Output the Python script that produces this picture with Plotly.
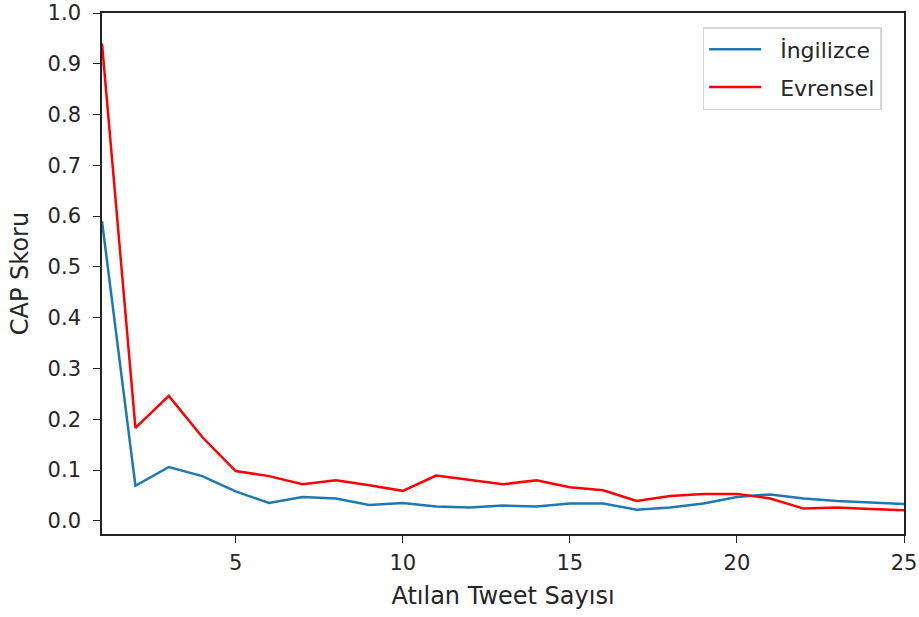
import plotly.graph_objects as go

# Number of tweets posted (x) and CAP scores for each model
tweet_counts = list(range(1, 26))
ingilizce = [0.59, 0.069, 0.106, 0.088, 0.058, 0.035, 0.047, 0.044, 0.031, 0.035,
             0.028, 0.026, 0.030, 0.028, 0.034, 0.034, 0.022, 0.026, 0.034, 0.047,
             0.052, 0.044, 0.039, 0.036, 0.033]
evrensel = [0.94, 0.183, 0.246, 0.165, 0.098, 0.088, 0.072, 0.080, 0.070, 0.059,
            0.089, 0.080, 0.072, 0.080, 0.066, 0.060, 0.039, 0.049, 0.053, 0.053,
            0.044, 0.024, 0.026, 0.023, 0.021]

x_ticks = [5, 10, 15, 20, 25]
y_ticks = [0.0, 0.1, 0.2, 0.3, 0.4, 0.5, 0.6, 0.7, 0.8, 0.9, 1.0]

font_family = "DejaVu Sans"
text_color = "#262626"
# a little breathing room between the legend line sample and its label
pad = "\u00a0\u00a0"

fig = go.Figure()
fig.add_trace(go.Scatter(x=tweet_counts, y=ingilizce, mode="lines", name=pad + "İngilizce",
                         legendgroup="ing",
                         line=dict(color="#1f77b4", width=2.5)))
fig.add_trace(go.Scatter(x=tweet_counts, y=evrensel, mode="lines", name=pad + "Evrensel",
                         legendgroup="evr",
                         line=dict(color="#ff0000", width=2.5)))

axis_common = dict(
    showline=True, linecolor="#222222", linewidth=1.6, mirror=True,
    ticks="outside", ticklen=7, tickwidth=1.4, tickcolor="#222222",
    showgrid=False, zeroline=False, automargin=False,
    tickfont=dict(family=font_family, size=21, color=text_color),
)

fig.update_layout(
    width=919, height=617,
    margin=dict(l=102, r=15, t=13, b=83),
    paper_bgcolor="white", plot_bgcolor="white",
    font=dict(family=font_family, size=21, color=text_color),
    xaxis=dict(range=[1, 25], tickvals=x_ticks, ticklabelstandoff=2,
               title=dict(text="Atılan Tweet Sayısı", standoff=13,
                          font=dict(family=font_family, size=24, color=text_color)),
               **axis_common),
    yaxis=dict(range=[-0.026, 1.0], tickvals=y_ticks, tickformat=".1f",
               ticklabelstandoff=8,
               title=dict(text="CAP Skoru", standoff=12,
                          font=dict(family=font_family, size=24, color=text_color)),
               **axis_common),
    legend=dict(x=0.749, y=0.973, xanchor="left", yanchor="top",
                bgcolor="white", bordercolor="#d6d6d6", borderwidth=1.5,
                font=dict(family=font_family, size=22, color=text_color),
                itemwidth=52, tracegroupgap=6),
    showlegend=True,
)

fig.write_html("out.html")
